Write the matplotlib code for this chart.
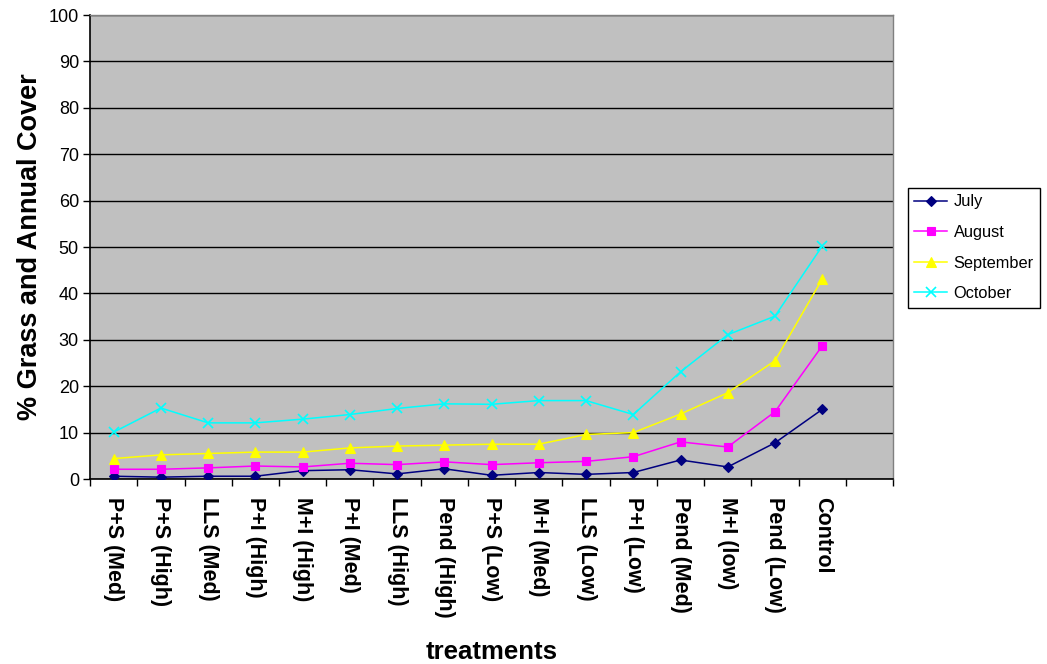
import matplotlib
matplotlib.use("Agg")
import matplotlib.pyplot as plt
import numpy as np

treatments = ["P+S (Med)", "P+S (High)", "LLS (Med)", "P+I (High)", "M+I (High)",
              "P+I (Med)", "LLS (High)", "Pend (High)", "P+S (Low)", "M+I (Med)",
              "LLS (Low)", "P+I (Low)", "Pend (Med)", "M+I (low)", "Pend (Low)", "Control"]

july = [0.6, 0.4, 0.6, 0.6, 1.8, 2.0, 1.1, 2.2, 0.8, 1.4, 1.0, 1.4, 4.1, 2.6, 7.8, 15.0]
august = [2.1, 2.1, 2.4, 2.8, 2.6, 3.4, 3.1, 3.7, 3.1, 3.5, 3.8, 4.8, 8.0, 6.9, 14.5, 28.7]
september = [4.4, 5.2, 5.5, 5.8, 5.8, 6.7, 7.1, 7.3, 7.5, 7.5, 9.6, 10.0, 14.0, 18.6, 25.5, 43.1]
october = [10.1, 15.3, 12.1, 12.1, 12.9, 13.9, 15.2, 16.2, 16.1, 16.9, 16.9, 13.9, 23.1, 31.1, 35.1, 50.2]

y_ticks = [0, 10, 20, 30, 40, 50, 60, 70, 80, 90, 100]
n_slots = 17  # one empty slot after the last treatment

plt.rcParams['font.family'] = ['Liberation Sans', 'DejaVu Sans']

fig = plt.figure(figsize=(10.47, 6.64), dpi=100)
ax = fig.add_axes([0.086, 0.2786, 0.767, 0.6988])
ax.set_facecolor("#C0C0C0")

x = np.arange(len(treatments))
series = [
    ("July", july, "#000080", "D", 5),
    ("August", august, "#FF00FF", "s", 6),
    ("September", september, "#FFFF00", "^", 7),
    ("October", october, "#00FFFF", "x", 7),
]
for name, vals, col, mk, ms in series:
    ax.plot(x, vals, color=col, marker=mk, markersize=ms, linewidth=1.1,
            markeredgecolor=col, markerfacecolor=col,
            markeredgewidth=1.2 if mk == "x" else 0.8,
            label=name, zorder=3)

ax.set_xlim(-0.5, n_slots - 0.5)
ax.set_ylim(0, 100)
ax.set_yticks(y_ticks)
ax.set_yticklabels([str(v) for v in y_ticks], fontsize=13)
ax.yaxis.grid(True, color="black", linewidth=1.0)
ax.set_axisbelow(True)

ax.set_xticks(x)
ax.set_xticklabels(treatments, rotation=270, fontsize=15.5, fontweight="bold",
                   va="top", ha="center")
ax.tick_params(axis="x", which="major", length=0, pad=13)
ax.set_xticks(np.arange(-0.5, n_slots, 1.0), minor=True)
ax.tick_params(axis="x", which="minor", length=5, width=1, direction="out")
ax.tick_params(axis="y", length=5, width=1, direction="out", pad=3)

for side in ["left", "bottom"]:
    ax.spines[side].set_color("black")
    ax.spines[side].set_linewidth(1.2)
for side in ["right", "top"]:
    ax.spines[side].set_color("#808080")
    ax.spines[side].set_linewidth(1.0)

ax.set_ylabel("% Grass and Annual Cover", fontsize=19.5, fontweight="bold", labelpad=4)
ax.set_xlabel("treatments", fontsize=18.5, fontweight="bold", labelpad=16)

leg = fig.legend(loc="upper left", bbox_to_anchor=(0.867, 0.717), fontsize=11.8,
                 frameon=True, fancybox=False, framealpha=1, edgecolor="black",
                 handlelength=2.0, borderpad=0.4, borderaxespad=0.0,
                 labelspacing=0.95, handletextpad=0.4)
leg.get_frame().set_linewidth(1.0)

fig.savefig("out.png", dpi=100, facecolor="white")
